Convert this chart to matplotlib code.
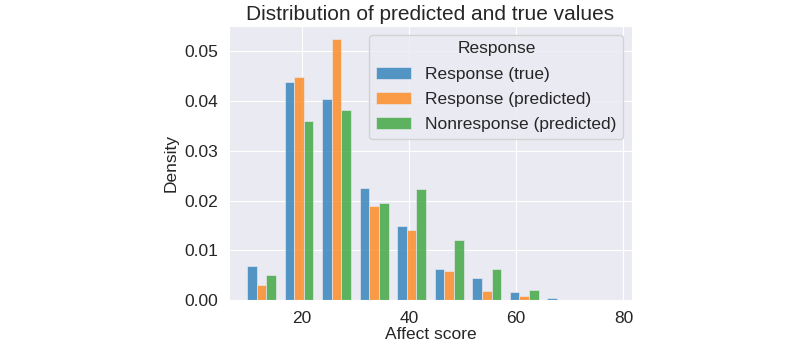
import numpy as np
import matplotlib.pyplot as plt
import seaborn as sns

# histogram bin edges (affect score) and density per bin
bin_edges = [9, 16, 23, 30, 37, 44, 51, 58, 65, 72, 79]
labels = ['Response (true)', 'Response (predicted)', 'Nonresponse (predicted)']
resp_true = [0.0069, 0.0438, 0.0405, 0.0225, 0.0148, 0.0063, 0.0045, 0.0016, 0.0004, 0.0]
resp_pred = [0.0031, 0.0448, 0.0525, 0.0189, 0.0141, 0.0058, 0.0018, 0.0009, 0.0001, 0.0]
nonresp_pred = [0.0051, 0.0360, 0.0383, 0.0195, 0.0224, 0.0121, 0.0063, 0.0020, 0.0001, 0.0]

sns.set_style('darkgrid')
plt.rcParams['font.family'] = ['Liberation Sans', 'DejaVu Sans']

fig = plt.figure(figsize=(8, 3.45), dpi=100)
ax = fig.add_axes([0.286, 0.130, 0.504, 0.795])

colors = sns.color_palette()[:3]
edges = np.array(bin_edges, dtype=float)
widths = np.diff(edges)
shrink = 0.77
series = [resp_true, resp_pred, nonresp_pred]
n = len(series)
group_w = widths * shrink
start = edges[:-1] + (widths - group_w) / 2
for i, (vals, lab, c) in enumerate(zip(series, labels, colors)):
    ax.bar(start + i * group_w / n, vals, width=group_w / n, align='edge',
           color=c, alpha=0.75, edgecolor='#EAEAF2', linewidth=0.6, label=lab)

ax.set_xlim(6.4, 81.6)
ax.set_ylim(0, 0.0551)
ax.set_xticks([20, 40, 60, 80])
ax.set_yticks([0.0, 0.01, 0.02, 0.03, 0.04, 0.05])
ax.set_yticklabels(['0.00', '0.01', '0.02', '0.03', '0.04', '0.05'])
ax.tick_params(labelsize=12.5, pad=4)
ax.set_xlabel('Affect score', fontsize=12.5, labelpad=1)
ax.set_ylabel('Density', fontsize=12.5)
ax.set_title('Distribution of predicted and true values', fontsize=15, pad=4)

leg = ax.legend(title='Response', fontsize=12.5, title_fontsize=12.5,
                loc='upper right', labelspacing=0.58)

fig.savefig('out.png', dpi=100)
